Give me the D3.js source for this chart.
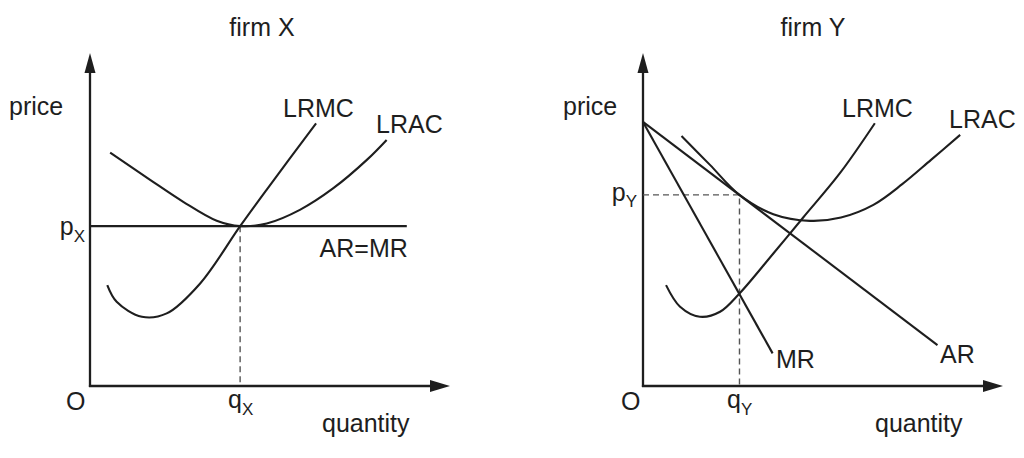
<!DOCTYPE html>
<html>
<head>
<meta charset="utf-8">
<script src="https://cdn.jsdelivr.net/npm/d3@7/dist/d3.min.js"></script>
<style>
  html, body { margin: 0; padding: 0; background: #fff; }
  svg text { font-family: "Liberation Sans", Arial, Helvetica, sans-serif; fill: #1e1e1e; }
</style>
</head>
<body>
<svg id="chart" width="1024" height="458"></svg>
<script>
// ---------- data (quantity, price) in abstract units 0..100 ----------
const panelTitles = ["firm X", "firm Y"];

// firm X
const xLRAC = [[5.6, 70.1], [16.7, 61.9], [25.9, 55.3], [35.2, 49.6], [41.7, 48], [49.1, 48.8], [58.3, 52.9], [67.6, 59.4], [76.9, 67.9], [82.4, 73.9]];
const xLRMC = [[4.8, 30.3], [7.4, 25.3], [14.4, 20.8], [21.3, 21.8], [30.6, 30.8], [41.7, 48], [49.1, 59], [62.8, 78.9]];
const xARMR = [[0, 48], [88, 48]];
const xEquilibrium = [41.7, 48];

// firm Y
const yAR = [[0, 79.3], [81.8, 12.3]];
const yMR = [[0, 79.3], [36, 9.8]];
const yLRAC = [[10.7, 75.1], [18.6, 66.4], [26.8, 57.4], [36.2, 51.6], [46.4, 49.6], [55, 50.6], [64, 54.4], [72, 60.6], [80, 67.9], [88.1, 75.4]];
const yLRMC = [[6.4, 30.3], [10.3, 23.8], [15.8, 20.8], [21.4, 22.3], [26.8, 27.8], [36.2, 39.8], [44.5, 50.6], [54.7, 63.9], [64.4, 78.9]];
const yEquilibrium = [26.8, 57.4];

// ---------- drawing ----------
const svg = d3.select("#chart");
const ink = "#1e1e1e";
const FS = 25;

function panel(originX) {
  const x = d3.scaleLinear().domain([0, 100]).range([originX, originX + 360]);
  const y = d3.scaleLinear().domain([0, 100]).range([386, 53]);
  const g = svg.append("g");
  g.append("line").attr("x1", x(0)).attr("y1", y(0) + 1.1).attr("x2", x(0)).attr("y2", y(100) + 16)
    .attr("stroke", ink).attr("stroke-width", 2.3);
  g.append("line").attr("x1", x(0) - 1.1).attr("y1", y(0)).attr("x2", x(100) - 16).attr("y2", y(0))
    .attr("stroke", ink).attr("stroke-width", 2.3);
  g.append("path").attr("d", `M${x(0)},${y(100)} L${x(0) - 5.5},${y(100) + 20} L${x(0) + 5.5},${y(100) + 20} Z`).attr("fill", ink);
  g.append("path").attr("d", `M${x(100)},${y(0)} L${x(100) - 20},${y(0) - 6} L${x(100) - 20},${y(0) + 6} Z`).attr("fill", ink);
  return { g, x, y };
}

function curve(p, pts, type) {
  const line = d3.line().x(d => p.x(d[0])).y(d => p.y(d[1])).curve(type || d3.curveCatmullRom.alpha(0.5));
  p.g.append("path").attr("d", line(pts)).attr("fill", "none").attr("stroke", ink).attr("stroke-width", 2.1);
}
function straight(p, pts) { curve(p, pts, d3.curveLinear); }
function dashed(p, pts) {
  p.g.append("path").attr("d", d3.line().x(d => p.x(d[0])).y(d => p.y(d[1]))(pts))
    .attr("fill", "none").attr("stroke", "#555").attr("stroke-width", 1.4).attr("stroke-dasharray", "6,4");
}
function label(p, txt, px, py, anchor) {
  return p.g.append("text").attr("x", px).attr("y", py).attr("font-size", FS)
    .attr("text-anchor", anchor || "start").text(txt);
}
function subLabel(p, main, sub, px, py, anchor, dy) {
  const t = p.g.append("text").attr("x", px).attr("y", py).attr("font-size", FS).attr("text-anchor", anchor || "start");
  t.append("tspan").text(main);
  t.append("tspan").attr("font-size", 17).attr("dy", dy).text(sub);
  return t;
}

// ---- firm X ----
const L = panel(90);
straight(L, xARMR);
dashed(L, [xEquilibrium, [xEquilibrium[0], 0]]);
curve(L, xLRAC);
curve(L, xLRMC);
label(L, panelTitles[0], 262, 36, "middle");
label(L, "price", 9, 115);
label(L, "LRMC", 283, 117);
label(L, "LRAC", 376, 133);
label(L, "AR=MR", L.x(88) + 1, 257, "end");
subLabel(L, "p", "X", 85, 235, "end", 7);
label(L, "O", 66, 410);
subLabel(L, "q", "X", 228, 408, "start", 7);
label(L, "quantity", 322, 432);

// ---- firm Y ----
const R = panel(643);
dashed(R, [[0, yEquilibrium[1]], yEquilibrium, [yEquilibrium[0], 0]]);
straight(R, yAR);
straight(R, yMR);
curve(R, yLRAC);
curve(R, yLRMC);
label(R, panelTitles[1], 813, 36, "middle");
label(R, "price", 563, 115);
label(R, "LRMC", 842, 117);
label(R, "LRAC", 949, 128);
label(R, "MR", 776, 368);
label(R, "AR", 940, 363);
subLabel(R, "p", "Y", 637, 201, "end", 6);
label(R, "O", 621, 410);
subLabel(R, "q", "Y", 727, 408, "start", 7);
label(R, "quantity", 875, 432);
</script>
</body>
</html>
